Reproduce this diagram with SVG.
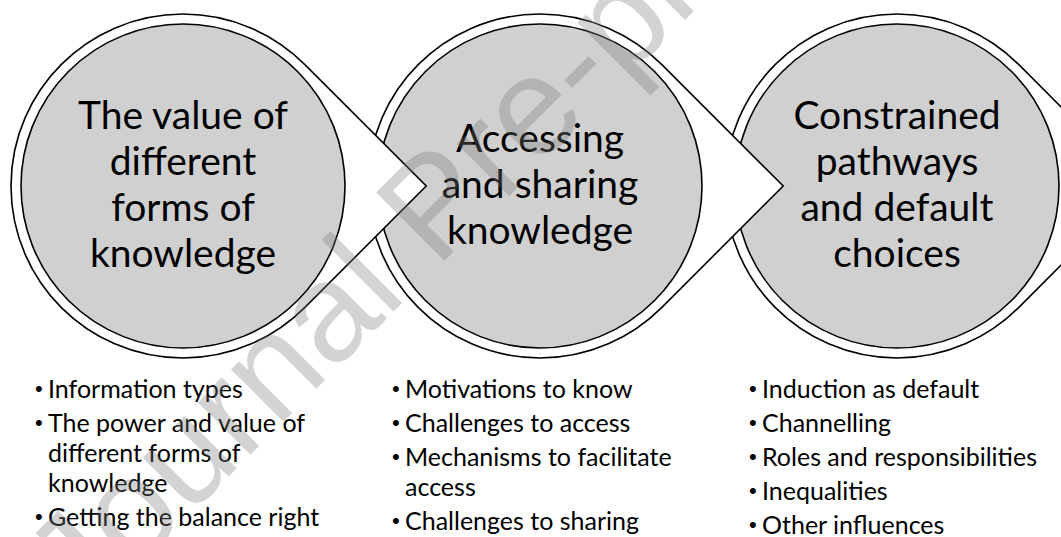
<svg xmlns="http://www.w3.org/2000/svg" xmlns:xlink="http://www.w3.org/1999/xlink" width="1061" height="537" viewBox="0 0 1061 537">
<style>
.outer{fill:#ffffff;stroke:#000000;stroke-width:1.6}
.inner{fill:#d0d0d0;stroke:#000000;stroke-width:1.6}
.title{font-family:Lato,"Open Sans",sans-serif;font-size:39px;fill:#000000;text-anchor:middle}
.item{font-family:Lato,"Open Sans",sans-serif;font-size:25px;fill:#000000}
.bul{font-family:"Liberation Sans",Arial,sans-serif;font-size:22px;fill:#000000}
.wm{font-family:"Liberation Sans",Arial,sans-serif;font-size:140px;fill:#7a7a7a;fill-opacity:0.33}
</style>
<defs>
<path id="outerShape" class="outer" d="M243.24 0 L121.62 121.62 A172 172 0 1 1 121.62 -121.62 Z"/>
</defs>
<g id="node3" transform="translate(897,186)">
<use xlink:href="#outerShape" href="#outerShape"/>
<circle class="inner" cx="0" cy="0" r="162"/>
<text class="title"><tspan x="0" y="-57">Constrained</tspan><tspan x="0" y="-11">pathways</tspan><tspan x="0" y="35">and default</tspan><tspan x="0" y="81">choices</tspan></text>
</g>
<g id="node2" transform="translate(540,186)">
<use xlink:href="#outerShape" href="#outerShape"/>
<circle class="inner" cx="0" cy="0" r="162"/>
<text class="title"><tspan x="0" y="-34">Accessing</tspan><tspan x="0" y="12">and sharing</tspan><tspan x="0" y="58">knowledge</tspan></text>
</g>
<g id="node1" transform="translate(183,186)">
<use xlink:href="#outerShape" href="#outerShape"/>
<circle class="inner" cx="0" cy="0" r="162"/>
<text class="title"><tspan x="0" y="-57">The value of</tspan><tspan x="0" y="-11">different</tspan><tspan x="0" y="35">forms of</tspan><tspan x="0" y="81">knowledge</tspan></text>
</g>
<g id="connectors"></g>
<g id="list1">
<text class="bul" x="35" y="396">•</text>
<text class="item" x="48" y="398">Information types</text>
<text class="bul" x="35" y="430">•</text>
<text class="item"><tspan x="48" y="432">The power and value of</tspan><tspan x="48" y="462">different forms of</tspan><tspan x="48" y="492">knowledge</tspan></text>
<text class="bul" x="35" y="524">•</text>
<text class="item" x="48" y="526">Getting the balance right</text>
</g>
<g id="list2">
<text class="bul" x="392" y="396">•</text>
<text class="item" x="405" y="398">Motivations to know</text>
<text class="bul" x="392" y="430">•</text>
<text class="item" x="405" y="432">Challenges to access</text>
<text class="bul" x="392" y="464">•</text>
<text class="item"><tspan x="405" y="466">Mechanisms to facilitate</tspan><tspan x="405" y="496">access</tspan></text>
<text class="bul" x="392" y="528">•</text>
<text class="item" x="405" y="530">Challenges to sharing</text>
</g>
<g id="list3">
<text class="bul" x="749" y="396">•</text>
<text class="item" x="762" y="398">Induction as default</text>
<text class="bul" x="749" y="430">•</text>
<text class="item" x="762" y="432">Channelling</text>
<text class="bul" x="749" y="464">•</text>
<text class="item" x="762" y="466">Roles and responsibilities</text>
<text class="bul" x="749" y="498">•</text>
<text class="item" x="762" y="500">Inequalities</text>
<text class="bul" x="749" y="532">•</text>
<text class="item" x="762" y="534">Other influences</text>
</g>
<g id="watermark">
<text class="wm" transform="translate(84,621) rotate(-45)">Journal Pre-proof</text>
</g>
</svg>
